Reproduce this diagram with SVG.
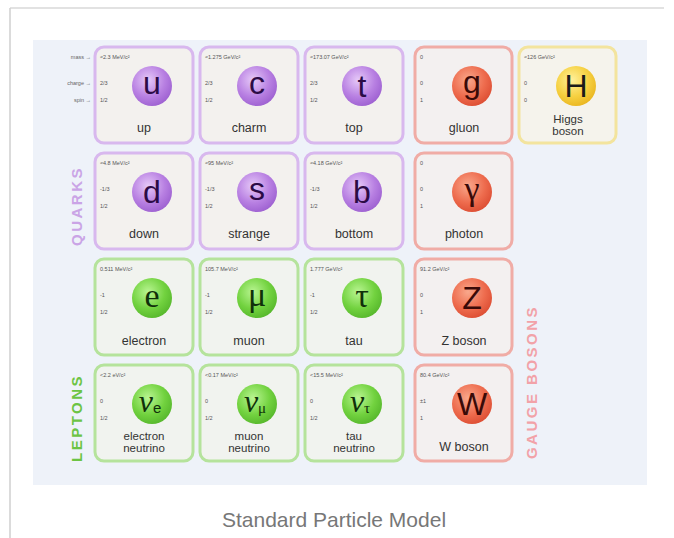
<svg xmlns="http://www.w3.org/2000/svg" width="674" height="538" viewBox="0 0 674 538">
<style>
.card{stroke-width:3}
.q{fill:#f3f1ee;stroke:#d8b8ee}
.l{fill:#f1f3ef;stroke:#b5e39c}
.g{fill:#f3f0f0;stroke:#f0aca6}
.h{fill:#f5f3ec;stroke:#f3e49e}
.m{font-family:"Liberation Sans",Arial,sans-serif;font-size:5.5px;fill:#555}
.ax{font-family:"Liberation Sans",Arial,sans-serif;font-size:5.5px;fill:#666;text-anchor:end}
.nm{font-family:"Liberation Sans",Arial,sans-serif;font-size:12.5px;fill:#333;text-anchor:middle}
.nm2{font-family:"Liberation Sans",Arial,sans-serif;font-size:11.5px;fill:#333;text-anchor:middle}
.ss{font-family:"Liberation Sans",Arial,sans-serif;font-size:32px;text-anchor:middle}
.sr{font-family:"Liberation Serif","Times New Roman",serif;font-size:34px;text-anchor:middle}
.nu{font-family:"Liberation Serif","Times New Roman",serif;font-style:italic;font-size:32px;text-anchor:middle}
.qc{fill:#2c0b46}.lc{fill:#10300a}.gc{fill:#3a0a08}.hc{fill:#1a1a1a}
.vl{font-family:"Liberation Sans",Arial,sans-serif;font-size:15px;font-weight:bold;letter-spacing:2.5px;text-anchor:middle}
</style>
<defs>
<radialGradient id="gq" cx="0.4" cy="0.35" r="0.7"><stop offset="0" stop-color="#e6c9f8"/><stop offset="0.6" stop-color="#b880e2"/><stop offset="1" stop-color="#9c5fd0"/></radialGradient>
<radialGradient id="gl" cx="0.4" cy="0.35" r="0.7"><stop offset="0" stop-color="#b9f592"/><stop offset="0.6" stop-color="#72d23f"/><stop offset="1" stop-color="#55b62b"/></radialGradient>
<radialGradient id="gg" cx="0.4" cy="0.35" r="0.7"><stop offset="0" stop-color="#f9a88c"/><stop offset="0.6" stop-color="#ee6c4e"/><stop offset="1" stop-color="#dc4c32"/></radialGradient>
<radialGradient id="gh" cx="0.4" cy="0.35" r="0.7"><stop offset="0" stop-color="#fff19c"/><stop offset="0.6" stop-color="#f6d040"/><stop offset="1" stop-color="#e9b41e"/></radialGradient>
</defs>
<rect width="674" height="538" fill="#ffffff"/>
<line x1="10" y1="8" x2="664" y2="8" stroke="#d9d9d9" stroke-width="1.5"/>
<line x1="10" y1="8" x2="10" y2="538" stroke="#cfcfcf" stroke-width="1.5"/>
<rect id="panel" x="33" y="40" width="614" height="445" fill="#eef2f9"/>

<g id="axis-labels">
<text class="ax" x="91" y="59">mass →</text>
<text class="ax" x="91" y="85">charge →</text>
<text class="ax" x="91" y="102">spin →</text>
</g>

<g id="up" transform="translate(95,47)">
<rect class="card q" width="98" height="96" rx="9"/>
<text class="m" x="5" y="12">≈2.3 MeV/c²</text><text class="m" x="5" y="38">2/3</text><text class="m" x="5" y="55">1/2</text>
<circle cx="57" cy="39" r="20" fill="url(#gq)"/>
<text class="ss qc" x="57" y="47">u</text>
<text class="nm" x="49" y="85">up</text>
</g>
<g id="charm" transform="translate(200,47)">
<rect class="card q" width="98" height="96" rx="9"/>
<text class="m" x="5" y="12">≈1.275 GeV/c²</text><text class="m" x="5" y="38">2/3</text><text class="m" x="5" y="55">1/2</text>
<circle cx="57" cy="39" r="20" fill="url(#gq)"/>
<text class="ss qc" x="57" y="47">c</text>
<text class="nm" x="49" y="85">charm</text>
</g>
<g id="top" transform="translate(305,47)">
<rect class="card q" width="98" height="96" rx="9"/>
<text class="m" x="5" y="12">≈173.07 GeV/c²</text><text class="m" x="5" y="38">2/3</text><text class="m" x="5" y="55">1/2</text>
<circle cx="57" cy="39" r="20" fill="url(#gq)"/>
<text class="ss qc" x="57" y="50">t</text>
<text class="nm" x="49" y="85">top</text>
</g>
<g id="gluon" transform="translate(415,47)">
<rect class="card g" width="97" height="96" rx="9"/>
<text class="m" x="5" y="12">0</text><text class="m" x="5" y="38">0</text><text class="m" x="5" y="55">1</text>
<circle cx="57" cy="39" r="20" fill="url(#gg)"/>
<text class="ss gc" x="57" y="46">g</text>
<text class="nm" x="49" y="85">gluon</text>
</g>
<g id="higgs" transform="translate(519,47)">
<rect class="card h" width="97" height="96" rx="9"/>
<text class="m" x="5" y="12">≈126 GeV/c²</text><text class="m" x="5" y="38">0</text><text class="m" x="5" y="55">0</text>
<circle cx="57" cy="39" r="20" fill="url(#gh)"/>
<text class="ss hc" x="57" y="50">H</text>
<text class="nm2" x="49" y="76">Higgs</text>
<text class="nm2" x="49" y="88">boson</text>
</g>

<g id="down" transform="translate(95,153)">
<rect class="card q" width="98" height="96" rx="9"/>
<text class="m" x="5" y="12">≈4.8 MeV/c²</text><text class="m" x="5" y="38">-1/3</text><text class="m" x="5" y="55">1/2</text>
<circle cx="57" cy="39" r="20" fill="url(#gq)"/>
<text class="ss qc" x="57" y="50">d</text>
<text class="nm" x="49" y="85">down</text>
</g>
<g id="strange" transform="translate(200,153)">
<rect class="card q" width="98" height="96" rx="9"/>
<text class="m" x="5" y="12">≈95 MeV/c²</text><text class="m" x="5" y="38">-1/3</text><text class="m" x="5" y="55">1/2</text>
<circle cx="57" cy="39" r="20" fill="url(#gq)"/>
<text class="ss qc" x="57" y="47">s</text>
<text class="nm" x="49" y="85">strange</text>
</g>
<g id="bottom" transform="translate(305,153)">
<rect class="card q" width="98" height="96" rx="9"/>
<text class="m" x="5" y="12">≈4.18 GeV/c²</text><text class="m" x="5" y="38">-1/3</text><text class="m" x="5" y="55">1/2</text>
<circle cx="57" cy="39" r="20" fill="url(#gq)"/>
<text class="ss qc" x="57" y="50">b</text>
<text class="nm" x="49" y="85">bottom</text>
</g>
<g id="photon" transform="translate(415,153)">
<rect class="card g" width="97" height="96" rx="9"/>
<text class="m" x="5" y="12">0</text><text class="m" x="5" y="38">0</text><text class="m" x="5" y="55">1</text>
<circle cx="57" cy="39" r="20" fill="url(#gg)"/>
<text class="sr gc" x="57" y="47">γ</text>
<text class="nm" x="49" y="85">photon</text>
</g>

<g id="electron" transform="translate(95,259)">
<rect class="card l" width="98" height="96" rx="9"/>
<text class="m" x="5" y="12">0.511 MeV/c²</text><text class="m" x="5" y="38">-1</text><text class="m" x="5" y="55">1/2</text>
<circle cx="57" cy="39" r="20" fill="url(#gl)"/>
<text class="sr lc" x="57" y="48">e</text>
<text class="nm" x="49" y="86">electron</text>
</g>
<g id="muon" transform="translate(200,259)">
<rect class="card l" width="98" height="96" rx="9"/>
<text class="m" x="5" y="12">105.7 MeV/c²</text><text class="m" x="5" y="38">-1</text><text class="m" x="5" y="55">1/2</text>
<circle cx="57" cy="39" r="20" fill="url(#gl)"/>
<text class="sr lc" x="57" y="47">μ</text>
<text class="nm" x="49" y="86">muon</text>
</g>
<g id="tau" transform="translate(305,259)">
<rect class="card l" width="98" height="96" rx="9"/>
<text class="m" x="5" y="12">1.777 GeV/c²</text><text class="m" x="5" y="38">-1</text><text class="m" x="5" y="55">1/2</text>
<circle cx="57" cy="39" r="20" fill="url(#gl)"/>
<text class="sr lc" x="57" y="48">τ</text>
<text class="nm" x="49" y="86">tau</text>
</g>
<g id="z-boson" transform="translate(415,259)">
<rect class="card g" width="97" height="96" rx="9"/>
<text class="m" x="5" y="12">91.2 GeV/c²</text><text class="m" x="5" y="38">0</text><text class="m" x="5" y="55">1</text>
<circle cx="57" cy="39" r="20" fill="url(#gg)"/>
<text class="ss gc" x="57" y="50">Z</text>
<text class="nm" x="49" y="86">Z boson</text>
</g>

<g id="electron-neutrino" transform="translate(95,365)">
<rect class="card l" width="98" height="96" rx="9"/>
<text class="m" x="5" y="12">&lt;2.2 eV/c²</text><text class="m" x="5" y="38">0</text><text class="m" x="5" y="55">1/2</text>
<circle cx="57" cy="39" r="20" fill="url(#gl)"/>
<text class="nu lc" x="55" y="47">ν<tspan font-size="15" font-style="normal" font-family="Liberation Sans, Arial, sans-serif" dy="1">e</tspan></text>
<text class="nm2" x="49" y="75">electron</text>
<text class="nm2" x="49" y="87">neutrino</text>
</g>
<g id="muon-neutrino" transform="translate(200,365)">
<rect class="card l" width="98" height="96" rx="9"/>
<text class="m" x="5" y="12">&lt;0.17 MeV/c²</text><text class="m" x="5" y="38">0</text><text class="m" x="5" y="55">1/2</text>
<circle cx="57" cy="39" r="20" fill="url(#gl)"/>
<text class="nu lc" x="55" y="47">ν<tspan font-size="15" font-style="normal" dy="1">μ</tspan></text>
<text class="nm2" x="49" y="75">muon</text>
<text class="nm2" x="49" y="87">neutrino</text>
</g>
<g id="tau-neutrino" transform="translate(305,365)">
<rect class="card l" width="98" height="96" rx="9"/>
<text class="m" x="5" y="12">&lt;15.5 MeV/c²</text><text class="m" x="5" y="38">0</text><text class="m" x="5" y="55">1/2</text>
<circle cx="57" cy="39" r="20" fill="url(#gl)"/>
<text class="nu lc" x="55" y="47">ν<tspan font-size="15" font-style="normal" dy="1">τ</tspan></text>
<text class="nm2" x="49" y="75">tau</text>
<text class="nm2" x="49" y="87">neutrino</text>
</g>
<g id="w-boson" transform="translate(415,365)">
<rect class="card g" width="97" height="96" rx="9"/>
<text class="m" x="5" y="12">80.4 GeV/c²</text><text class="m" x="5" y="38">±1</text><text class="m" x="5" y="55">1</text>
<circle cx="57" cy="39" r="20" fill="url(#gg)"/>
<text class="ss gc" x="57" y="50">W</text>
<text class="nm" x="49" y="86">W boson</text>
</g>

<g id="group-labels">
<text class="vl" fill="#caa4e6" transform="translate(82,206) rotate(-90)">QUARKS</text>
<text class="vl" fill="#6cc444" transform="translate(82,418) rotate(-90)">LEPTONS</text>
<text class="vl" fill="#f2a2a8" transform="translate(537,382) rotate(-90)">GAUGE BOSONS</text>
</g>

<text id="caption" x="334" y="527" font-family="Liberation Sans, Arial, sans-serif" font-size="21" fill="#777" text-anchor="middle">Standard Particle Model</text>
</svg>
